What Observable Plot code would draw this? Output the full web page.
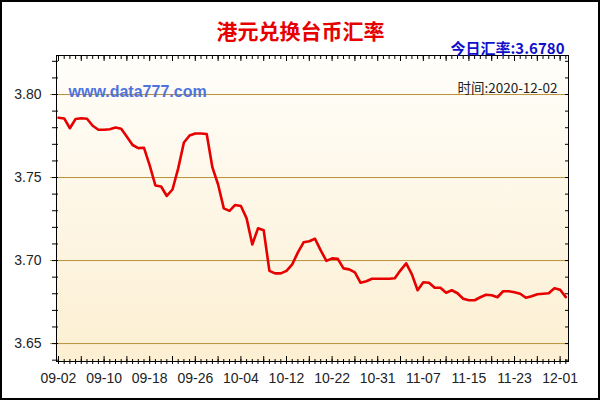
<!DOCTYPE html>
<html><head><meta charset="utf-8">
<script src="https://cdn.jsdelivr.net/npm/d3@7"></script>
<script src="https://cdn.jsdelivr.net/npm/@observablehq/plot@0.6"></script>
<style>body{margin:0;background:#fff}</style>
</head><body><div id="chart"></div>
<script>
const title = "港元兑换台币汇率";
const todayLabel = "今日汇率:3.6780";
const siteLabel = "www.data777.com";
const timeLabel = "时间:2020-12-02";
const tickLabels = ["09-02","09-10","09-18","09-26","10-04","10-12","10-22","10-31","11-07","11-15","11-23","12-01"];
const labelStep = 8;
const rates = [
  3.7860,3.7856,3.7797,3.7853,3.7857,3.7854,3.7812,3.7788,3.7788,3.7791,
  3.7801,3.7794,3.7746,3.7696,3.7677,3.7679,3.7573,3.7452,3.7446,3.7389,
  3.7428,3.7555,3.7711,3.7753,3.7765,3.7765,3.7762,3.7561,3.7458,3.7314,
  3.7299,3.7335,3.7329,3.7254,3.7097,3.7194,3.7182,3.6938,3.6923,3.6923,
  3.6938,3.6977,3.7049,3.7110,3.7116,3.7131,3.7061,3.6998,3.7013,3.7010,
  3.6953,3.6947,3.6929,3.6866,3.6875,3.6890,3.6890,3.6890,3.6890,3.6893,
  3.6941,3.6983,3.6917,3.6821,3.6869,3.6866,3.6836,3.6836,3.6806,3.6821,
  3.6803,3.6770,3.6761,3.6761,3.6779,3.6794,3.6791,3.6779,3.6815,3.6815,
  3.6809,3.6800,3.6776,3.6785,3.6797,3.6800,3.6803,3.6833,3.6824,3.6780
];
const yMajor = [3.65, 3.70, 3.75, 3.80];
const yMinor = [3.64,3.65,3.66,3.67,3.68,3.69,3.70,3.71,3.72,3.73,3.74,3.75,3.76,3.77,3.78,3.79,3.80,3.81,3.82];

const data = rates.map((v, i) => ({i, v}));
const xMinor = d3.range(rates.length);
const xMid = xMinor.filter(i => i % 4 === 0);
const xLabeled = tickLabels.map((_, k) => k * labelStep);
const blank = () => "";
const axisColor = "#000";
const gridColor = "#b8923a";

const chart = Plot.plot({
  width: 600, height: 400,
  marginLeft: 56, marginRight: 32, marginTop: 55, marginBottom: 39,
  x: {domain: [-0.35, 89.47], axis: null},
  y: {domain: [3.6392, 3.8235], axis: null},
  style: {fontFamily: "'Liberation Sans', Arial, sans-serif", fontSize: "14px", background: "white", color: "#222"},
  marks: [
    Plot.frame({fill: "url(#bgGrad)"}),
    Plot.ruleY(yMajor, {stroke: gridColor, strokeWidth: 1, insetLeft: -6}),
    // left ticks
    Plot.axisY(yMinor, {anchor: "left", label: null, tickSize: 4, tickFormat: blank, stroke: axisColor}),
    Plot.axisY(yMinor, {anchor: "left", label: null, tickSize: -2, tickFormat: blank, stroke: axisColor}),
    Plot.axisY(yMajor, {anchor: "left", label: null, tickSize: 0, tickPadding: 15, tickFormat: d => d.toFixed(2), fill: "#222", fontSize: 14}),
    // right ticks
    Plot.axisY(yMinor, {anchor: "right", label: null, tickSize: -4, tickFormat: blank, stroke: axisColor}),
    // bottom ticks
    Plot.axisX(xMinor, {anchor: "bottom", label: null, tickSize: 3, tickFormat: blank, stroke: axisColor}),
    Plot.axisX(xMinor, {anchor: "bottom", label: null, tickSize: -2, tickFormat: blank, stroke: axisColor}),
    Plot.axisX(xMid, {anchor: "bottom", label: null, tickSize: -5, tickFormat: blank, stroke: axisColor}),
    Plot.axisX(xLabeled, {anchor: "bottom", label: null, tickSize: 0, tickPadding: 12, tickFormat: i => tickLabels[i / labelStep], fill: "#222", fontSize: 14}),
    // top ticks
    Plot.axisX(xMinor, {anchor: "top", label: null, tickSize: -3, tickFormat: blank, stroke: axisColor}),
    Plot.axisX(xMid, {anchor: "top", label: null, tickSize: -5, tickFormat: blank, stroke: axisColor}),
    Plot.line(data, {x: "i", y: "v", stroke: "#e60000", strokeWidth: 2.6, strokeLinejoin: "round"}),
    Plot.frame({stroke: "#000", strokeWidth: 1}),
    Plot.text([title], {frameAnchor: "top", dx: -12, dy: -31, fill: "#e60000", fontSize: 21, fontWeight: "bold", fontFamily: "'Noto Sans CJK SC', sans-serif"}),
    Plot.text([todayLabel], {frameAnchor: "top-right", textAnchor: "end", dx: -4, dy: -12, fill: "#1010cc", fontSize: 15, fontWeight: "bold", fontFamily: "'Noto Sans CJK SC', sans-serif"}),
    Plot.text([siteLabel], {frameAnchor: "top-left", textAnchor: "start", dx: 12, dy: 30, fill: "#4f73dd", fontSize: 16, fontWeight: "bold", fontFamily: "'Liberation Sans', Arial, sans-serif"}),
    Plot.text([timeLabel], {frameAnchor: "top-right", textAnchor: "end", dx: -11, dy: 28, fill: "#222", fontSize: 13.5, fontFamily: "'Noto Sans CJK SC', sans-serif"})
  ]
});

const svg = d3.select(chart);
const defs = svg.insert("defs", ":first-child");
const grad = defs.append("linearGradient").attr("id", "bgGrad").attr("x1", 0).attr("y1", 0).attr("x2", 0).attr("y2", 1);
grad.append("stop").attr("offset", "0%").attr("stop-color", "#fffefa");
grad.append("stop").attr("offset", "100%").attr("stop-color", "#fcefd2");
svg.append("rect").attr("x", 1).attr("y", 1).attr("width", 598).attr("height", 398)
  .attr("fill", "none").attr("stroke", "#000").attr("stroke-width", 2);
document.getElementById("chart").appendChild(chart);
</script>
</body></html>
